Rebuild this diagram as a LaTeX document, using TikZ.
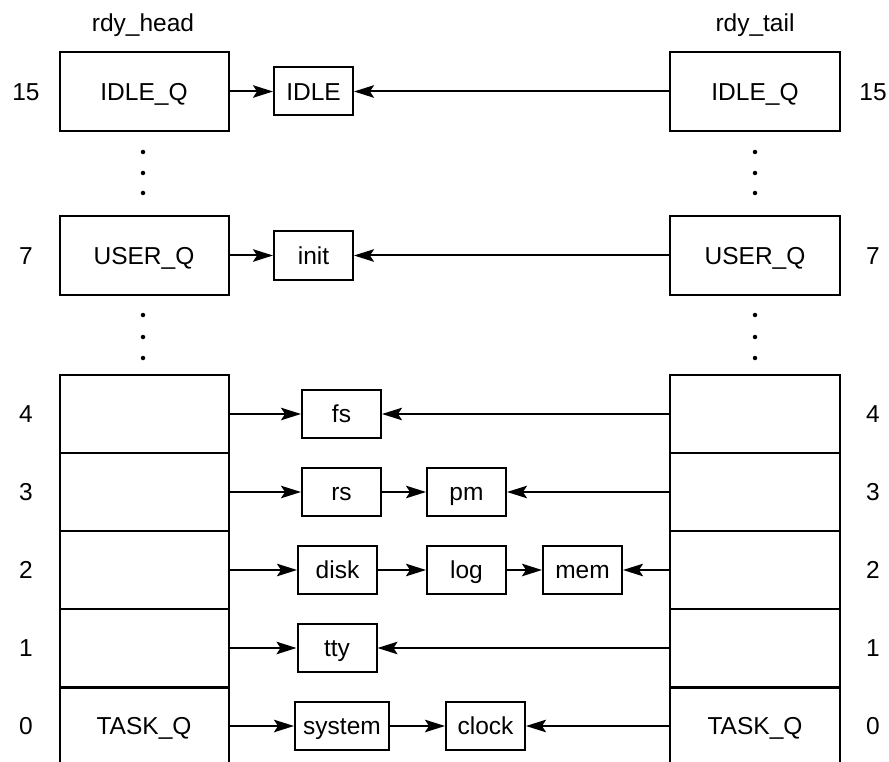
\documentclass[tikz,border=0pt]{standalone}
\usepackage{fontspec}
\setmainfont{Liberation Sans}
\usetikzlibrary{arrows.meta}
\begin{document}
\begin{tikzpicture}[x=1pt,y=-1pt,
  every node/.style={font=\fontsize{24.5}{30}\selectfont,text height=17.5pt,text depth=0pt,inner sep=0pt},
  bigbox/.style={draw,line width=2pt,minimum height=79pt},
  rowbox/.style={draw,line width=2pt,minimum height=78pt},
  procbox/.style={draw,line width=2pt,minimum width=79pt,minimum height=48pt},
  arr/.style={line width=2pt,-{Stealth[length=20pt,width=12.5pt,inset=4pt]}},
  lbl/.style={},
  dotmark/.style={fill,circle,text height=0pt,minimum size=4.5pt}]
\useasboundingbox (0,0) rectangle (889,762);
\clip (0,0) rectangle (889,762);

% column titles
\node[lbl] (th) at (143,23) {rdy\_head};
\node[lbl] (tt) at (755,23) {rdy\_tail};

% top boxes
\node[bigbox,minimum width=169pt] (hidle) at (144,91.5) {IDLE\_Q};
\node[bigbox,minimum width=170pt] (tidle) at (755,91.5) {IDLE\_Q};
\node[bigbox,minimum width=169pt] (huser) at (144,255.5) {USER\_Q};
\node[bigbox,minimum width=170pt] (tuser) at (755,255.5) {USER\_Q};

% stacked rows
\node[rowbox,minimum width=169pt] (h4) at (144,414) {};
\node[rowbox,minimum width=169pt] (h3) at (144,492) {};
\node[rowbox,minimum width=169pt] (h2) at (144,570) {};
\node[rowbox,minimum width=169pt] (h1) at (144,648) {};
\node[rowbox,minimum width=169pt,minimum height=100pt,anchor=north] (h0) at (144,687) {};
\node (h0t) at (144,726) {TASK\_Q};
\node[rowbox,minimum width=170pt] (t4) at (755,414) {};
\node[rowbox,minimum width=170pt] (t3) at (755,492) {};
\node[rowbox,minimum width=170pt] (t2) at (755,570) {};
\node[rowbox,minimum width=170pt] (t1) at (755,648) {};
\node[rowbox,minimum width=170pt,minimum height=100pt,anchor=north] (t0) at (755,687) {};
\node (t0t) at (755,726) {TASK\_Q};

% priority numbers
\node[lbl] (l15) at (26,91.5) {15};
\node[lbl] (r15) at (873,91.5) {15};
\node[lbl] (l7) at (26,255.5) {7};
\node[lbl] (r7) at (873,255.5) {7};
\node[lbl] (l4) at (26,414) {4};
\node[lbl] (r4) at (873,414) {4};
\node[lbl] (l3) at (26,492) {3};
\node[lbl] (r3) at (873,492) {3};
\node[lbl] (l2) at (26,570) {2};
\node[lbl] (r2) at (873,570) {2};
\node[lbl] (l1) at (26,648) {1};
\node[lbl] (r1) at (873,648) {1};
\node[lbl] (l0) at (26,726) {0};
\node[lbl] (r0) at (873,726) {0};

% ellipsis dots
\foreach \yy [count=\i] in {152,173,193,315,337,358}{
  \node[dotmark] (dl\i) at (143,\yy) {};
  \node[dotmark] (dr\i) at (755,\yy) {};
}

% process boxes
\node[procbox] (idle) at (313.5,91.5) {IDLE};
\node[procbox] (init) at (313.5,255.5) {init};
\node[procbox] (fs) at (341.5,414) {fs};
\node[procbox] (rs) at (341.5,492) {rs};
\node[procbox] (pm) at (466.5,492) {pm};
\node[procbox] (disk) at (337.5,570) {disk};
\node[procbox] (log) at (466.5,570) {log};
\node[procbox] (mem) at (582.5,570) {mem};
\node[procbox] (tty) at (337,648) {tty};
\node[procbox,minimum width=94pt] (system) at (342,726) {system};
\node[procbox] (clock) at (485.5,726) {clock};

% head pointers
\draw[arr] (hidle.east) -- (idle.west);
\draw[arr] (huser.east) -- (init.west);
\draw[arr] (h4.east) -- (fs.west);
\draw[arr] (h3.east) -- (rs.west);
\draw[arr] (h2.east) -- (disk.west);
\draw[arr] (h1.east) -- (tty.west);
\draw[arr] (h0t.east -| h0.east) -- (system.west);

% chains
\draw[arr] (rs.east) -- (pm.west);
\draw[arr] (disk.east) -- (log.west);
\draw[arr] (log.east) -- (mem.west);
\draw[arr] (system.east) -- (clock.west);

% tail pointers
\draw[arr] (tidle.west) -- (idle.east);
\draw[arr] (tuser.west) -- (init.east);
\draw[arr] (t4.west) -- (fs.east);
\draw[arr] (t3.west) -- (pm.east);
\draw[arr] (t2.west) -- (mem.east);
\draw[arr] (t1.west) -- (tty.east);
\draw[arr] (t0t.west -| t0.west) -- (clock.east);
\end{tikzpicture}
\end{document}
